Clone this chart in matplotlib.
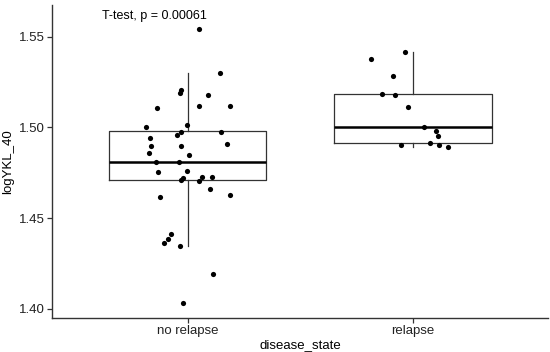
import matplotlib
matplotlib.use("Agg")
import matplotlib.pyplot as plt

plt.rcParams["font.family"] = ["Liberation Sans", "DejaVu Sans"]

groups = ["no relapse", "relapse"]

# logYKL_40 values, with the horizontal jitter of each dot
no_relapse_vals = [
    1.5540, 1.5300, 1.5204, 1.5188, 1.5180, 1.5120, 1.5120, 1.5107, 1.5000,
    1.5014, 1.4974, 1.4974, 1.4958, 1.4944, 1.4898, 1.4898, 1.4907, 1.4858,
    1.4845, 1.4809, 1.4809, 1.4754, 1.4762, 1.4722, 1.4710, 1.4706, 1.4725,
    1.4727, 1.4658, 1.4617, 1.4625, 1.4410, 1.4383, 1.4361, 1.4346, 1.4191,
    1.4032,
]
no_relapse_jitter = [
    0.049, 0.142, -0.031, -0.035, 0.092, 0.051, 0.188, -0.136, -0.183,
    -0.002, 0.150, -0.028, -0.049, -0.165, -0.160, -0.028, 0.173, -0.169,
    0.006, -0.139, -0.037, -0.130, -0.001, -0.022, -0.027, 0.052, 0.066,
    0.108, 0.100, -0.124, 0.190, -0.074, -0.085, -0.105, -0.032, 0.112,
    -0.018,
]
relapse_vals = [
    1.5378, 1.5414, 1.5284, 1.5182, 1.5181, 1.5112, 1.5000, 1.4981, 1.4954,
    1.4904, 1.4915, 1.4904, 1.4894,
]
relapse_jitter = [
    -0.187, -0.037, -0.088, -0.138, -0.081, -0.021, 0.050, 0.103, 0.110,
    -0.055, 0.075, 0.113, 0.155,
]

# box statistics as drawn (whisker low, q1, median, q3, whisker high)
box_whislo = [1.4347, 1.4894]
box_q1 = [1.4710, 1.4915]
box_med = [1.4810, 1.5000]
box_q3 = [1.4980, 1.5182]
box_whishi = [1.5300, 1.5413]

p_label = "T-test, p = 0.00061"

fig = plt.figure(figsize=(5.5, 3.52), dpi=100)
ax = fig.add_axes([0.095, 0.097, 0.902, 0.889])

stats = []
for i in range(len(groups)):
    stats.append(dict(
        whislo=box_whislo[i], q1=box_q1[i], med=box_med[i],
        q3=box_q3[i], whishi=box_whishi[i], fliers=[],
    ))

line_col = "#333333"
ax.bxp(
    stats, positions=[1, 2], widths=0.7, showfliers=False, showcaps=False,
    boxprops=dict(color=line_col, linewidth=0.9),
    whiskerprops=dict(color=line_col, linewidth=0.9),
    medianprops=dict(color="black", linewidth=1.8),
    zorder=1,
)

ax.scatter([1 + j for j in no_relapse_jitter], no_relapse_vals,
           s=14, color="black", linewidths=0, zorder=3)
ax.scatter([2 + j for j in relapse_jitter], relapse_vals,
           s=14, color="black", linewidths=0, zorder=3)

ax.text(0.62, 1.5615, p_label, ha="left", va="center", fontsize=9,
        color="black")

ax.set_xlim(0.4, 2.6)
ax.set_ylim(1.395, 1.5675)
ax.set_xticks([1, 2])
ax.set_xticklabels(groups)
ax.set_yticks([1.40, 1.45, 1.50, 1.55])
ax.set_yticklabels(["1.40", "1.45", "1.50", "1.55"])

ax.set_xlabel("disease_state", fontsize=9.5, color="black", labelpad=1)
ax.set_ylabel("logYKL_40", fontsize=9.5, color="black", labelpad=3)

for side in ["top", "right"]:
    ax.spines[side].set_visible(False)
for side in ["left", "bottom"]:
    ax.spines[side].set_color(line_col)
    ax.spines[side].set_linewidth(1.0)

ax.tick_params(axis="both", direction="out", length=3.5, width=0.9,
               color=line_col, labelsize=9.5, labelcolor="#222222", pad=2)

fig.savefig("out.png", dpi=100)
